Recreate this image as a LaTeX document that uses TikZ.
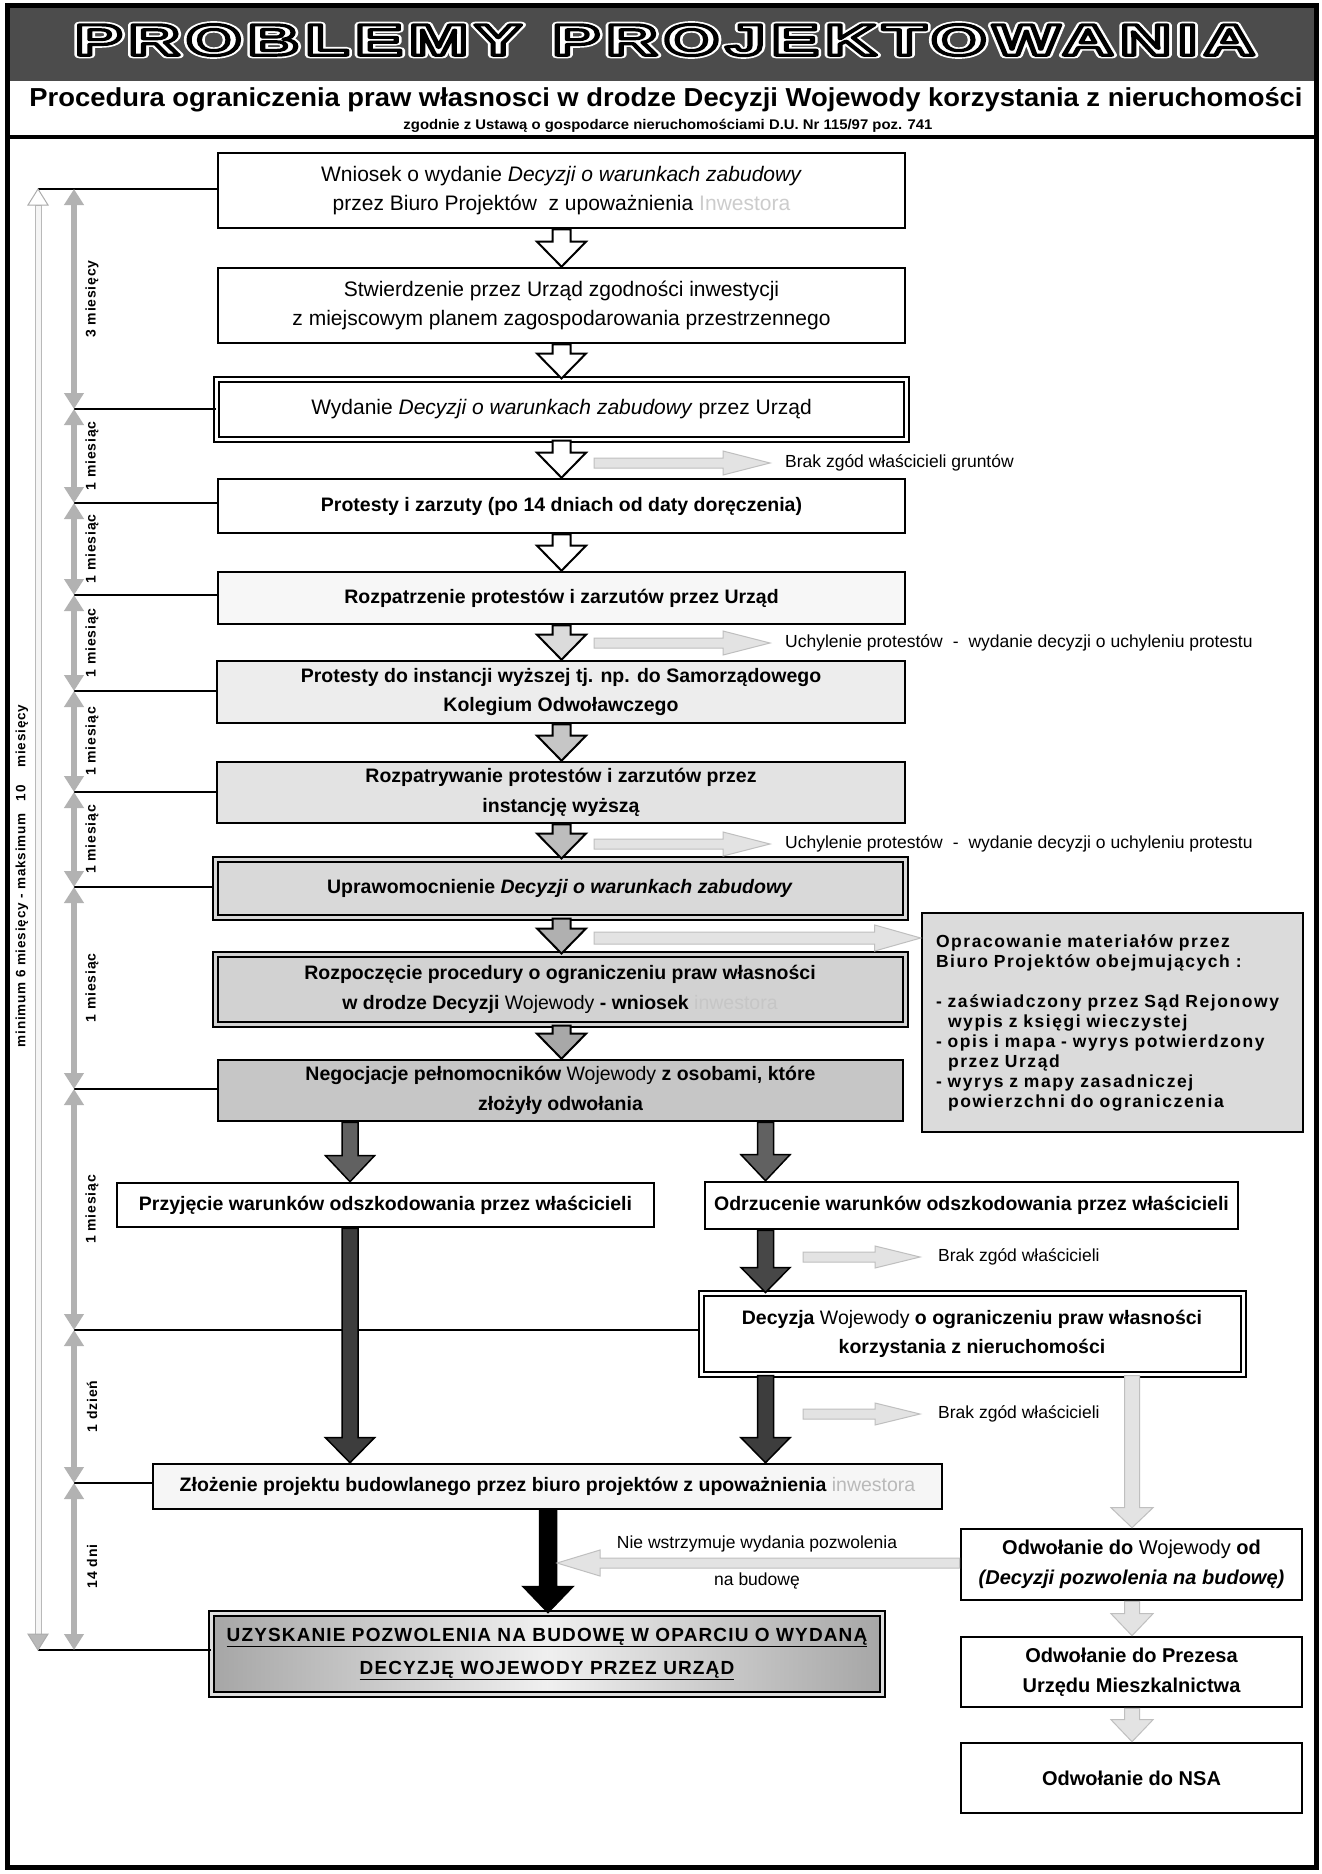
\documentclass[tikz,border=0pt]{standalone}
\usepackage{fontspec}
\setmainfont{Liberation Sans}
\newfontfamily\titlefont[LetterSpace=9]{Liberation Sans}
\newfontfamily\sidefont[LetterSpace=9]{Liberation Sans}
\newfontfamily\timefont[LetterSpace=6]{Liberation Sans}
\newfontfamily\uzfont[LetterSpace=6]{Liberation Sans}
\usepackage{graphicx}
\usetikzlibrary{calc,arrows.meta}

\newcommand{\blkdown}[7]{%
 \draw[#1] let \p1=(#3 -| #2), \p2=(#4 -| #2) in
 (\x1-#5pt,\y1) -- (\x1-#5pt,\y2+#7pt) -- (\x1-#6pt,\y2+#7pt) -- (\x1,\y2)
 -- (\x1+#6pt,\y2+#7pt) -- (\x1+#5pt,\y2+#7pt) -- (\x1+#5pt,\y1) -- cycle;}
\newcommand{\blkright}[6]{%
 \draw[#1] let \p1=(#2), \p2=(#3) in
 (\x1,\y1+#4pt) -- (\x2-#6pt,\y1+#4pt) -- (\x2-#6pt,\y1+#5pt) -- (\x2,\y1)
 -- (\x2-#6pt,\y1-#5pt) -- (\x2-#6pt,\y1-#4pt) -- (\x1,\y1-#4pt) -- cycle;}
\newcommand{\blkleft}[6]{%
 \draw[#1] let \p1=(#2), \p2=(#3) in
 (\x1,\y1+#4pt) -- (\x2+#6pt,\y1+#4pt) -- (\x2+#6pt,\y1+#5pt) -- (\x2,\y1)
 -- (\x2+#6pt,\y1-#5pt) -- (\x2+#6pt,\y1-#4pt) -- (\x1,\y1-#4pt) -- cycle;}
% outlined title text: #1 stroke grey level, #2 stroke width
\newcommand{\ttlbox}[2]{\resizebox{1180pt}{\height}{\titlefont\bfseries\fontsize{44}{44}\selectfont
  \special{pdf:literal direct #1 G #2 w 1 j 2 Tr}PROBLEMY\hspace{19pt}PROJEKTOWANIA\special{pdf:literal direct 0 Tr}}}

\begin{document}
\begin{tikzpicture}[x=1pt,y=-1pt,
  box/.style={draw=black,line width=2.6pt,inner sep=0pt,align=center,fill=white},
  dbox/.style={draw=black,line width=2pt,double distance=3pt,inner sep=0pt,align=center},
  rf/.style={font=\fontsize{21}{29}\selectfont},
  bf/.style={font=\fontsize{19.5}{29.5}\selectfont\bfseries},
  of/.style={font=\fontsize{20}{30}\selectfont\bfseries},
  hol/.style={draw=black,line width=2pt,fill=#1},
  hol/.default=white,
  dk/.style={draw=black,line width=1.5pt,fill=#1},
  lt/.style={draw=gray!50,line width=1pt,fill=gray!22},
  thinl/.style={line width=1.2pt,draw=black},
  tarr/.style={draw=gray!60,line width=6pt,{Triangle[length=16pt,width=19pt]}-{Triangle[length=16pt,width=19pt]}},
  tl/.style={rotate=90,font=\timefont\bfseries\fontsize{14}{14}\selectfont},
  rt/.style={anchor=west,inner sep=0pt,font=\fontsize{17.5}{20}\selectfont}]
\useasboundingbox (0,0) rectangle (1322,1874);
\fill[white] (0,0) rectangle (1322,1874);

% header
\fill[black!70] (7,5) rectangle (1316,81);
\coordinate (tt) at (665,40);
\node[text=white] (titlehalo) at (tt) {\ttlbox{1}{6.5}};
\node[text=white] (title) at (tt) {\ttlbox{0}{3.2}};
\node[anchor=base,inner sep=0pt] (sub1) at (666,106) {\resizebox{1273pt}{\height}{\bfseries\fontsize{26}{26}\selectfont Procedura ograniczenia praw własnosci w drodze Decyzji Wojewody korzystania z nieruchomości}};
\node[anchor=base,inner sep=0pt] (sub2) at (668,129) {\resizebox{529pt}{\height}{\bfseries\fontsize{14}{14}\selectfont zgodnie z Ustawą o gospodarce nieruchomościami D.U. Nr 115/97 poz. 741}};
\draw[line width=4pt] (7,137) -- (1316,137);
\draw[line width=5pt] (7,5) rectangle (1316,1867);

% main column boxes
\node[box,rf,minimum width=687pt,minimum height=75pt] (b1) at (561.5,190.5)
 {Wniosek o wydanie \textit{Decyzji o warunkach zabudowy}\\przez Biuro Projektów\ \ z upoważnienia {\color{gray!40}Inwestora}};
\node[box,rf,minimum width=687pt,minimum height=75pt] (b2) at (561.5,305.5)
 {Stwierdzenie przez Urząd zgodności inwestycji\\z miejscowym planem zagospodarowania przestrzennego};
\node[dbox,rf,double=white,fill=white,minimum width=690pt,minimum height=60pt] (b3) at (561.5,409.5)
 {Wydanie \textit{Decyzji o warunkach zabudowy} przez Urząd};
\node[box,bf,minimum width=687pt,minimum height=54pt] (b4) at (561.5,506)
 {Protesty i zarzuty (po 14 dniach od daty doręczenia)};
\node[box,bf,fill=gray!6,minimum width=687pt,minimum height=52pt] (b5) at (561.5,598)
 {Rozpatrzenie protestów i zarzutów przez Urząd};
\node[box,bf,fill=gray!14,minimum width=688pt,minimum height=62pt] (b6) at (561,692)
 {Protesty do instancji wyższej tj. np. do Samorządowego\\Kolegium Odwoławczego};
\node[box,bf,fill=gray!22,minimum width=688pt,minimum height=61pt] (b7) at (561,792.5)
 {Rozpatrywanie protestów i zarzutów przez\\instancję wyższą};
\node[dbox,bf,double=gray!30,fill=gray!30,minimum width=690pt,minimum height=58pt] (b8) at (560,888.5)
 {Uprawomocnienie \textit{Decyzji o warunkach zabudowy}};
\node[dbox,bf,double=gray!35,fill=gray!35,minimum width=690pt,minimum height=70pt] (b9) at (560,989.5)
 {Rozpoczęcie procedury o ograniczeniu praw własności\\w drodze Decyzji {\mdseries Wojewody} - wniosek {\mdseries\color{gray!45}inwestora}};
\node[box,bf,fill=gray!45,minimum width=685pt,minimum height=61pt] (b10) at (560.5,1090.5)
 {Negocjacje pełnomocników {\mdseries Wojewody} z osobami, które\\złożyły odwołania};

% side box
\node[box,fill=gray!28,minimum width=381pt,minimum height=219pt,text width=353pt,align=left,
 font=\sidefont\bfseries\fontsize{17.5}{20}\selectfont] (side) at (1112.5,1022.5)
 {Opracowanie materiałów przez\\Biuro Projektów obejmujących :\\[20pt]
  - zaświadczony przez Sąd Rejonowy\\\hspace*{12pt}wypis z księgi wieczystej\\
  - opis i mapa - wyrys potwierdzony\\\hspace*{12pt}przez Urząd\\
  - wyrys z mapy zasadniczej\\\hspace*{12pt}powierzchni do ograniczenia};

% lower boxes
\node[box,bf,minimum width=537pt,minimum height=44pt] (pr) at (385.5,1205)
 {Przyjęcie warunków odszkodowania przez właścicieli};
\node[box,bf,minimum width=533pt,minimum height=47pt] (od) at (971.5,1205.5)
 {Odrzucenie warunków odszkodowania przez właścicieli};
\node[dbox,bf,double=white,fill=white,minimum width=542pt,minimum height=81pt] (dec) at (972,1334)
 {Decyzja {\mdseries Wojewody} o ograniczeniu praw własności\\korzystania z nieruchomości};
\node[box,bf,fill=gray!7,minimum width=789pt,minimum height=45pt] (zl) at (547.5,1486.5)
 {Złożenie projektu budowlanego przez biuro projektów z upoważnienia {\mdseries\color{gray!55}inwestora}};
\node[dbox,double=gray!25,left color=gray!70,right color=gray!70,middle color=gray!12,
 minimum width=671pt,minimum height=81pt,font=\uzfont\bfseries\fontsize{19}{33}\selectfont] (uz) at (547,1654)
 {\underline{UZYSKANIE POZWOLENIA NA BUDOWĘ W OPARCIU O WYDANĄ}\\\underline{DECYZJĘ WOJEWODY PRZEZ URZĄD}};
\node[box,of,minimum width=341pt,minimum height=71pt] (o1) at (1131.5,1564.5)
 {Odwołanie do {\mdseries Wojewody} od\\\textit{(Decyzji pozwolenia na budowę)}};
\node[box,of,minimum width=341pt,minimum height=70pt] (o2) at (1131.5,1672)
 {Odwołanie do Prezesa\\Urzędu Mieszkalnictwa};
\node[box,of,minimum width=341pt,minimum height=70pt] (o3) at (1131.5,1778)
 {Odwołanie do NSA};

% time axis
\foreach \n/\yy in {0/189,1/409,2/503,3/595,4/691,5/792,6/887,7/1089,8/1330,9/1483,10/1650}
  \coordinate (t\n) at (74,\yy);
\coordinate (oa0) at (38,189);
\coordinate (oa1) at (38,1650);
\draw[thinl] (oa0) -- (b1.west |- oa0);
\draw[thinl] (t1) -- (b3.west |- t1);
\draw[thinl] (t2) -- (b4.west |- t2);
\draw[thinl] (t3) -- (b5.west |- t3);
\draw[thinl] (t4) -- (b6.west |- t4);
\draw[thinl] (t5) -- (b7.west |- t5);
\draw[thinl] (t6) -- (b8.west |- t6);
\draw[thinl] (t7) -- (b10.west |- t7);
\draw[thinl] (t8) -- (dec.west |- t8);
\draw[thinl] (t9) -- (zl.west |- t9);
\draw[thinl] (oa1) -- (uz.west |- oa1);
\foreach \a/\b/\txt in {0/1/3 miesięcy,1/2/1 miesiąc,2/3/1 miesiąc,3/4/1 miesiąc,4/5/1 miesiąc,5/6/1 miesiąc,6/7/1 miesiąc,7/8/1 miesiąc,8/9/1 dzień,9/10/14 dni}{
  \draw[tarr] (t\a) -- (t\b);
  \node[tl] (lab\a) at ($(t\a)!0.5!(t\b)+(18,0)$) {\txt};
}
% outer arrow
\draw[draw=gray!55,fill=gray!8,line width=1pt] let \p1=(oa0), \p2=(oa1) in
  (\x1-3pt,\y1-16pt) rectangle (\x1+3pt,\y2+16pt);
\draw[draw=gray!65,fill=white,line width=1pt] let \p1=(oa0) in
  (\x1,\y1) -- (\x1-10pt,\y1-16pt) -- (\x1+10pt,\y1-16pt) -- cycle;
\draw[draw=gray!65,fill=gray!55,line width=1pt] let \p1=(oa1) in
  (\x1,\y1) -- (\x1-10pt,\y1+16pt) -- (\x1+10pt,\y1+16pt) -- cycle;
\node[rotate=90,font=\timefont\bfseries\fontsize{13.5}{14}\selectfont] (span) at (22,876)
  {minimum 6 miesięcy - maksimum\hspace{12pt}10\hspace{18pt}miesięcy};

% main column arrows
\coordinate (xm) at (561.5,0);
\coordinate (xl) at (350,0);
\coordinate (xr) at (765.5,0);
\coordinate (xo) at (1132,0);
\coordinate (xz) at (548,0);
\blkdown{hol}{xm}{b1.south}{b2.north}{9}{24.5}{25}
\blkdown{hol}{xm}{b2.south}{b3.north}{9}{24.5}{25}
\blkdown{hol}{xm}{b3.south}{b4.north}{9}{24.5}{25}
\blkdown{hol}{xm}{b4.south}{b5.north}{9}{24.5}{25}
\blkdown{hol=gray!28}{xm}{b5.south}{b6.north}{9}{24.5}{25}
\blkdown{hol=gray!45}{xm}{b6.south}{b7.north}{9}{24.5}{25}
\blkdown{hol=gray!52}{xm}{b7.south}{b8.north}{9}{24.5}{25}
\blkdown{hol=gray!62}{xm}{b8.south}{b9.north}{9}{24.5}{25}
\blkdown{hol=gray!68}{xm}{b9.south}{b10.north}{9}{24.5}{25}
\blkdown{dk=black!62}{xl}{b10.south}{pr.north}{8}{24.5}{26}
\blkdown{dk=black!62}{xr}{b10.south}{od.north}{8}{24.5}{26}
\blkdown{dk=black!76}{xl}{pr.south}{zl.north}{8}{24.5}{25}
\blkdown{dk=black!72}{xr}{od.south}{dec.north}{8}{24.5}{25}
\blkdown{dk=black!76}{xr}{dec.south}{zl.north}{8}{24.5}{25}
\blkdown{dk=black}{xz}{zl.south}{uz.north}{8.5}{25}{26}
\blkdown{lt}{xo}{dec.south}{o1.north}{7.5}{21}{20}
\blkdown{lt}{xo}{o1.south}{o2.north}{7.5}{21}{22}
\blkdown{lt}{xo}{o2.south}{o3.north}{7.5}{21}{22}

% side arrows and texts
\coordinate (ra1) at (594,463); \coordinate (re1) at (770,463);
\coordinate (ra2) at (594,643); \coordinate (re2) at (770,643);
\coordinate (ra3) at (594,844); \coordinate (re3) at (770,844);
\coordinate (ra4) at (594,938);
\coordinate (ra5) at (803,1257); \coordinate (re5) at (920,1257);
\coordinate (ra6) at (803,1414); \coordinate (re6) at (920,1414);
\coordinate (ra7) at (961,1563); \coordinate (re7) at (557,1563);
\blkright{lt}{ra1}{re1}{5}{12}{47}
\blkright{lt}{ra2}{re2}{5}{12}{47}
\blkright{lt}{ra3}{re3}{5}{12}{47}
\blkright{lt}{ra4}{ra4 -| side.west}{6}{13}{46}
\blkright{lt}{ra5}{re5}{5}{11}{45}
\blkright{lt}{ra6}{re6}{5}{11}{45}
\blkleft{lt}{ra7 -| o1.west}{re7}{5}{13}{43}
\node[rt] (tx1) at (785,463) {Brak zgód właścicieli gruntów};
\node[rt] (tx2) at (785,643) {Uchylenie protestów\hspace{10pt}-\hspace{10pt}wydanie decyzji o uchyleniu protestu};
\node[rt] (tx3) at (785,844) {Uchylenie protestów\hspace{10pt}-\hspace{10pt}wydanie decyzji o uchyleniu protestu};
\node[rt] (tx5) at (938,1257) {Brak zgód właścicieli};
\node[rt] (tx6) at (938,1414) {Brak zgód właścicieli};
\node[font=\fontsize{17.5}{20}\selectfont,inner sep=0pt] (tx7) at (757,1544) {Nie wstrzymuje wydania pozwolenia};
\node[font=\fontsize{17.5}{20}\selectfont,inner sep=0pt] (tx8) at (757,1581) {na budowę};
\end{tikzpicture}
\end{document}
